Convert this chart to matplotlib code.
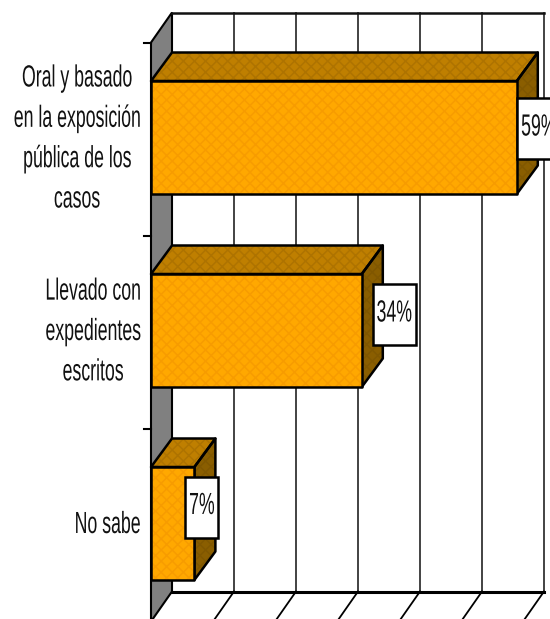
# Barres horizontales 3D facon Excel
import matplotlib
matplotlib.use("Agg")
from matplotlib import pyplot as plt
from matplotlib.patches import Polygon
from matplotlib.patheffects import AbstractPathEffect
from matplotlib.transforms import Affine2D

categorias = ["Oral y basado\nen la exposición\npública de los\ncasos",
              "Llevado con\nexpedientes\nescritos",
              "No sabe"]
valores = [59, 34, 7]
etiquetas = ["59%", "34%", "7%"]
ticks_x = [0, 10, 20, 30, 40, 50, 60]

W, H = 550, 619
PX_X = 6.2      # px par %
PX_Y = 193.0    # px par categorie
X0 = 151
Y0 = 137.5
DX = 21 / PX_X  # profondeur
DY = 28.5 / PX_Y
BAR_H = 113 / PX_Y
ETROIT = 0.58   # pas de police etroite installee


class Etroit(AbstractPathEffect):
    # resserre le texte autour de son centre
    def __init__(self, cx):
        super().__init__()
        self.cx = cx

    def draw_path(self, renderer, gc, tpath, affine, rgbFace=None):
        t = affine + Affine2D().translate(-self.cx, 0).scale(ETROIT, 1).translate(self.cx, 0)
        renderer.draw_path(gc, tpath, t, rgbFace)


plt.rcParams["font.family"] = ["Liberation Sans", "DejaVu Sans"]
plt.rcParams["hatch.linewidth"] = 1.1

fig = plt.figure(figsize=(5.5, 6.19), dpi=100)
ax = fig.add_axes([0, 0, 1, 1])
ax.set_xlim(-X0 / PX_X, (W - X0) / PX_X)
ax.set_ylim((H - Y0) / PX_Y, -Y0 / PX_Y)
ax.axis("off")

y_fond_haut = -0.5 - DY
y_fond_bas = 2.5 - DY
y_haut = -0.5 + 1.5 / PX_Y
y_bas = 2.5 + 1.5 / PX_Y
xmax = ticks_x[-1]

# mur gauche
ax.add_patch(Polygon([(0, y_haut), (DX, y_fond_haut), (DX, y_fond_bas), (0, y_bas)],
                     fc="#808080", ec="black", lw=1.5, zorder=1))

# grille du fond et du sol
for t in ticks_x[1:]:
    ax.plot([t + DX, t + DX], [y_fond_haut, y_fond_bas], color="#222222", lw=1.2, zorder=1)
    ax.plot([t + DX, t], [y_fond_bas, y_bas], color="black", lw=1.3, zorder=1)
ax.plot([DX, xmax + DX], [y_fond_haut, y_fond_haut], color="#111111", lw=1.8, zorder=1)
ax.plot([DX, xmax + DX], [y_fond_bas, y_fond_bas], color="black", lw=2.2, zorder=1)

# petits traits de l'axe des categories
for y in [y_haut, y_haut + 1, y_haut + 2]:
    ax.plot([-7 / PX_X, 0], [y, y], color="black", lw=1.5, zorder=1)


def face(points, couleur, trame, z):
    ax.add_patch(Polygon(points, fc=couleur, ec=trame, lw=0, hatch="xxx", zorder=z))
    ax.add_patch(Polygon(points, fc="none", ec="black", lw=1.8, joinstyle="round", zorder=z + 0.1))


decal_x = [0, 11, -9]    # boite par rapport au bout de barre, px
decal_y = [-9, -16, -16.5]
larg_boite = [44, 43, 33]
centre_cat = [77, 93, 107.5]    # centre des textes, px

for i, v in enumerate(valores):
    y0 = i - BAR_H / 2
    y1 = i + BAR_H / 2
    # cote droit
    face([(v, y0), (v + DX, y0 - DY), (v + DX, y1 - DY), (v, y1)], "#8A5E00", "#805700", 3)
    # dessus
    face([(0, y0), (DX, y0 - DY), (v + DX, y0 - DY), (v, y0)], "#BF7F00", "#AE7300", 3)
    # face avant
    face([(0, y0), (v, y0), (v, y1), (0, y1)], "#FFA800", "#F79C00", 4)

    # etiquette
    g = v + decal_x[i] / PX_X
    larg = larg_boite[i] / PX_X
    yc = i + decal_y[i] / PX_Y
    hb = 30.5 / PX_Y
    ax.add_patch(Polygon([(g, yc - hb), (g + larg, yc - hb), (g + larg, yc + hb), (g, yc + hb)],
                         fc="white", ec="black", lw=1.8, zorder=5))
    xt = g + larg / 2
    cx = ax.transData.transform((xt, 0))[0]
    ax.text(xt, yc - 1 / PX_Y, etiquetas[i], ha="center", va="center", fontsize=22,
            color="#111111", zorder=6, path_effects=[Etroit(cx)])

    # nom de categorie
    xc = (centre_cat[i] - X0) / PX_X
    cx = ax.transData.transform((xc, 0))[0]
    ax.text(xc, i + 1.5 / PX_Y, categorias[i], ha="center", va="center", multialignment="center",
            fontsize=22, linespacing=1.45, color="#111111", path_effects=[Etroit(cx)])

fig.savefig("out.png", dpi=100)
